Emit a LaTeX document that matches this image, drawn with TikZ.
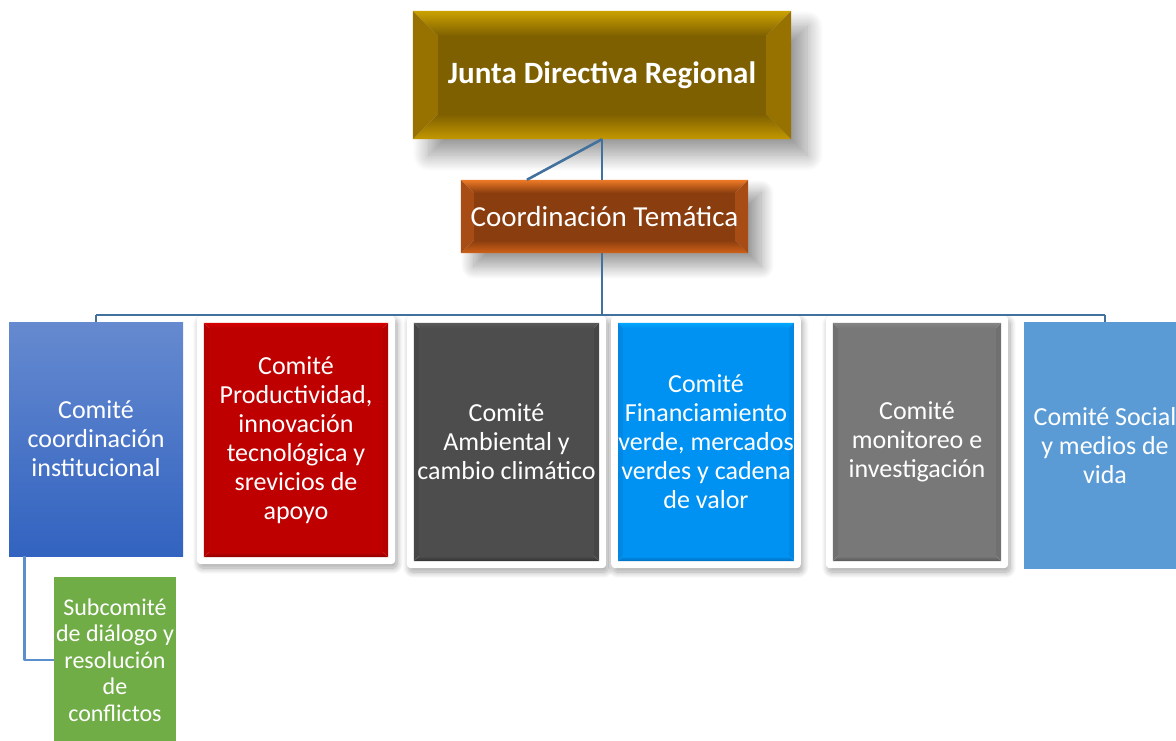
\documentclass[tikz,border=0pt]{standalone}
\usepackage{fontspec}
\setmainfont{Carlito}
\usetikzlibrary{calc,fit,positioning,shadows.blur}
\pgfdeclarelayer{bg}
\pgfsetlayers{bg,main}
\definecolor{linkblue}{HTML}{41719C}
\definecolor{sublinkblue}{HTML}{5B8FCB}
\definecolor{coordblue}{HTML}{3263C0}
\definecolor{socialblue}{HTML}{5B9BD5}
\definecolor{subgreen}{HTML}{70AD47}
\definecolor{juntatop}{HTML}{CCA200}
\definecolor{juntabot}{HTML}{C49800}
\definecolor{juntaside}{HTML}{977200}
\definecolor{juntamid}{HTML}{7F6000}
\definecolor{temtop}{HTML}{EE7A26}
\definecolor{tembot}{HTML}{D0621A}
\definecolor{temside}{HTML}{A84C15}
\definecolor{temmid}{HTML}{8A3D0E}
\definecolor{prodtop}{HTML}{D60000}
\definecolor{prodbot}{HTML}{8C0000}
\definecolor{prodside}{HTML}{B40000}
\definecolor{prodmid}{HTML}{BF0000}
\definecolor{ambtop}{HTML}{5A5A5A}
\definecolor{ambbot}{HTML}{303030}
\definecolor{ambside}{HTML}{464646}
\definecolor{ambmid}{HTML}{4D4D4D}
\definecolor{fintop}{HTML}{00A8FF}
\definecolor{finbot}{HTML}{006DBA}
\definecolor{finside}{HTML}{0088E4}
\definecolor{finmid}{HTML}{0092F2}
\definecolor{montop}{HTML}{858585}
\definecolor{monbot}{HTML}{565656}
\definecolor{monside}{HTML}{707070}
\definecolor{monmid}{HTML}{787878}
% bevelled fill behind a node: node, inset, top, bottom, sides, centre
\newcommand{\bevel}[6]{%
  \shade[top color=#3,bottom color=#6] (#1.north west) -- (#1.north east)
    -- ([shift={(-#2pt,-#2pt)}]#1.north east) -- ([shift={(#2pt,-#2pt)}]#1.north west) -- cycle;
  \shade[top color=#6,bottom color=#4] (#1.south west) -- (#1.south east)
    -- ([shift={(-#2pt,#2pt)}]#1.south east) -- ([shift={(#2pt,#2pt)}]#1.south west) -- cycle;
  \fill[#5] (#1.north west) -- (#1.south west)
    -- ([shift={(#2pt,#2pt)}]#1.south west) -- ([shift={(#2pt,-#2pt)}]#1.north west) -- cycle;
  \fill[#5] (#1.north east) -- (#1.south east)
    -- ([shift={(-#2pt,#2pt)}]#1.south east) -- ([shift={(-#2pt,-#2pt)}]#1.north east) -- cycle;
  \fill[#6] ([shift={(#2pt,-#2pt)}]#1.north west) rectangle ([shift={(-#2pt,#2pt)}]#1.south east);}
\begin{document}
\begin{tikzpicture}[x=1pt,y=-1pt,line join=round,
    font=\fontsize{26}{29}\selectfont,
    box/.style={text=white,align=center,inner sep=0pt},
    frame/.style={fill=white,rounded corners=4pt,inner sep=7pt,
      blur shadow={shadow xshift=2pt,shadow yshift=-4pt,shadow blur radius=6pt,shadow blur steps=12,shadow opacity=35}},
    bigshadow/.style={blur shadow={shadow xshift=#1,shadow yshift=-#1,shadow blur radius=#1,shadow blur steps=20,shadow opacity=40}},
    link/.style={draw=linkblue,line width=2.6pt},
    sublink/.style={draw=sublinkblue,line width=2.8pt}]
  \useasboundingbox (0,0) rectangle (1176,740);
  \path (602,75) coordinate (J)
    (604.5,216.5) coordinate (T)
    (96,439) coordinate (C1)
    (296,440) coordinate (C2)
    (506.5,442) coordinate (C3)
    (706,442) coordinate (C4)
    (917,442) coordinate (C5)
    (1105,445.5) coordinate (C6)
    (115,660) coordinate (S)
    (0,315) coordinate (bus)
    ;
  \node[box,minimum width=378pt,minimum height=128pt,font=\fontsize{31}{36}\selectfont\bfseries] (j) at (J) {Junta Directiva Regional};
  \node[box,minimum width=287pt,minimum height=73pt,font=\fontsize{29}{34}\selectfont] (ct) at (T) {Coordinación Temática};
  \node[box,minimum width=174pt,minimum height=234pt,top color=coordblue!75!white,bottom color=coordblue] (c1) at (C1) {Comité\\coordinación\\institucional};
  \node[box,minimum width=184pt,minimum height=234pt] (c2) at (C2) {Comité\\Productividad,\\innovación\\tecnológica y\\srevicios de\\apoyo};
  \node[box,minimum width=185pt,minimum height=238pt] (c3) at (C3) {Comité\\Ambiental y\\cambio climático};
  \node[box,minimum width=168pt,minimum height=238pt] (c4) at (C4) {Comité\\Financiamiento\\verde, mercados\\verdes y cadena\\de valor};
  \node[box,minimum width=168pt,minimum height=238pt] (c5) at (C5) {Comité\\monitoreo e\\investigación};
  \node[box,minimum width=162pt,minimum height=247pt,fill=socialblue] (c6) at (C6) {Comité Social\\y medios de\\vida};
  \node[box,minimum width=122pt,minimum height=166pt,fill=subgreen,font=\fontsize{24}{26.5}\selectfont] (sc) at (S) {Subcomité\\de diálogo y\\resolución\\de\\conflictos};

  \begin{pgfonlayer}{bg}
    \foreach \n in {2,...,5}
      \node[frame,fit=(c\n)] (f\n) {};
    \path[bigshadow=16pt] (j.north west) rectangle (j.south east);
    \path[bigshadow=13pt] (ct.north west) rectangle (ct.south east);
    \bevel{j}{25}{juntatop}{juntabot}{juntaside}{juntamid}
    \bevel{ct}{13}{temtop}{tembot}{temside}{temmid}
    \bevel{c2}{5}{prodtop}{prodbot}{prodside}{prodmid}
    \bevel{c3}{5}{ambtop}{ambbot}{ambside}{ambmid}
    \bevel{c4}{5}{fintop}{finbot}{finside}{finmid}
    \bevel{c5}{5}{montop}{monbot}{monside}{monmid}
  \end{pgfonlayer}

  \draw[link] (j.south) -- (j.south |- ct.north);
  \draw[link] (j.south) -- ($(ct.north west)!0.23!(ct.north east)$);
  \draw[link] (j.south |- ct.south) -- (j.south |- bus);
  \draw[link] (c1.north |- bus) -- (c6.north |- bus);
  \foreach \n in {c1,f2,f3,f4,f5,c6}
    \draw[link] (\n.north) -- (\n.north |- bus);
  \draw[sublink] ([xshift=16pt]c1.south west) |- (sc.west);
\end{tikzpicture}
\end{document}
